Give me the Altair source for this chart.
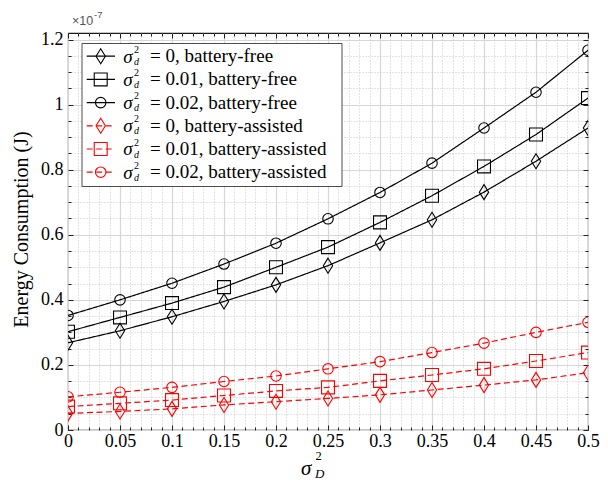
import altair as alt
import pandas as pd

# ---------------- data (values in units of 1e-7 J) ----------------
x_vals = [0, 0.05, 0.10, 0.15, 0.20, 0.25, 0.30, 0.35, 0.40, 0.45, 0.50]
bf_0 = [0.268, 0.305, 0.348, 0.395, 0.446, 0.505, 0.575, 0.646, 0.731, 0.826, 0.928]
bf_001 = [0.302, 0.346, 0.390, 0.439, 0.500, 0.562, 0.638, 0.720, 0.810, 0.908, 1.020]
bf_002 = [0.352, 0.400, 0.451, 0.510, 0.574, 0.649, 0.730, 0.820, 0.928, 1.038, 1.167]
ba_0 = [0.051, 0.057, 0.065, 0.077, 0.087, 0.097, 0.108, 0.123, 0.138, 0.154, 0.176]
ba_001 = [0.072, 0.082, 0.092, 0.106, 0.120, 0.131, 0.151, 0.169, 0.188, 0.212, 0.238]
ba_002 = [0.102, 0.116, 0.131, 0.149, 0.166, 0.188, 0.210, 0.238, 0.267, 0.300, 0.331]

series_names = ["bf0", "bf001", "bf002", "ba0", "ba001", "ba002"]
series_values = [bf_0, bf_001, bf_002, ba_0, ba_001, ba_002]
series_markers = ["diamond", "square", "circle", "diamond", "square", "circle"]
legend_texts = [
    "= 0, battery-free",
    "= 0.01, battery-free",
    "= 0.02, battery-free",
    "= 0, battery-assisted",
    "= 0.01, battery-assisted",
    "= 0.02, battery-assisted",
]

x_major = [0, 0.05, 0.1, 0.15, 0.2, 0.25, 0.3, 0.35, 0.4, 0.45, 0.5]
x_minor = [round(i * 0.01, 2) for i in range(51) if i % 5 != 0]
y_major = [0, 0.2, 0.4, 0.6, 0.8, 1.0, 1.2]
y_minor = [round(i * 0.05, 2) for i in range(25) if i % 4 != 0]

# ---------------- styles ----------------
colors = ["#000000", "#000000", "#000000", "#ff0000", "#ff0000", "#ff0000"]
dashes = [[1, 0], [1, 0], [1, 0], [6, 3.5], [6, 3.5], [6, 3.5]]
marker_kinds = ["diamond", "square", "circle"]
marker_paths = ["M0,-1L0.62,0L0,1L-0.62,0Z", "square", "circle"]
marker_sizes = [225, 110, 169]

rows = []
for name, vals, mk in zip(series_names, series_values, series_markers):
    for xv, yv in zip(x_vals, vals):
        rows.append({"x": xv, "y": yv, "series": name, "marker": mk})
df = pd.DataFrame(rows)

leg = pd.DataFrame({"series": series_names, "marker": series_markers,
                    "label": legend_texts, "row": list(range(6))})

xs = alt.Scale(domain=[0, 0.5], nice=False, zero=False)
ys = alt.Scale(domain=[0, 1.22], nice=False, zero=False)
color_s = alt.Color("series:N", scale=alt.Scale(domain=series_names, range=colors), legend=None)
dash_s = alt.StrokeDash("series:N", scale=alt.Scale(domain=series_names, range=dashes), legend=None)
shape_s = alt.Shape("marker:N", scale=alt.Scale(domain=marker_kinds, range=marker_paths), legend=None)
size_s = alt.Size("marker:N", scale=alt.Scale(domain=marker_kinds, range=marker_sizes), legend=None)

SERIF = "Liberation Serif"


def axis_layer(xaxis, yaxis):
    return alt.Chart(df).mark_point(opacity=0).encode(
        x=alt.X("x:Q", scale=xs, axis=xaxis),
        y=alt.Y("y:Q", scale=ys, axis=yaxis),
    )


def plain(orient, values, **kw):
    base = dict(orient=orient, values=values, title=None, labels=False, ticks=False,
                domain=False, grid=False)
    base.update(kw)
    return alt.Axis(**base)


grid_minor = axis_layer(
    plain("bottom", x_minor, grid=True, gridColor="#c8c8c8", gridDash=[1, 2], gridWidth=1),
    plain("left", y_minor, grid=True, gridColor="#c8c8c8", gridDash=[1, 2], gridWidth=1),
)
grid_major = axis_layer(
    plain("bottom", x_major, grid=True, gridColor="#d6d6d6", gridWidth=1.2),
    plain("left", y_major, grid=True, gridColor="#d6d6d6", gridWidth=1.2),
)
label_axes = axis_layer(
    alt.Axis(orient="bottom", values=x_major, title=None, grid=False, domain=False,
             ticks=True, tickSize=5, tickColor="#222", tickWidth=1, offset=-5,
             labels=True, labelFont=SERIF, labelFontSize=18, labelColor="#000",
             labelPadding=2, labelFlush=False, labelOverlap=False, format="~g"),
    alt.Axis(orient="left", values=y_major, title=None, grid=False, domain=False,
             ticks=True, tickSize=5, tickColor="#222", tickWidth=1, offset=-5,
             labels=True, labelFont=SERIF, labelFontSize=18, labelColor="#000",
             labelPadding=5, labelFlush=False, labelOverlap=False, format="~g"),
)
minor_ticks_bl = axis_layer(
    plain("bottom", x_minor, ticks=True, tickSize=3, tickColor="#222", offset=-3),
    plain("left", y_minor, ticks=True, tickSize=3, tickColor="#222", offset=-3),
)
major_ticks_tr = axis_layer(
    plain("top", x_major, ticks=True, tickSize=5, tickColor="#222", offset=-5),
    plain("right", y_major, ticks=True, tickSize=5, tickColor="#222", offset=-5),
)
minor_ticks_tr = axis_layer(
    plain("top", x_minor, ticks=True, tickSize=3, tickColor="#222", offset=-3),
    plain("right", y_minor, ticks=True, tickSize=3, tickColor="#222", offset=-3),
)

X = alt.X("x:Q", scale=xs, axis=None)
Y = alt.Y("y:Q", scale=ys, axis=None)

lines = alt.Chart(df).mark_line(clip=True, strokeWidth=1.2).encode(
    x=X, y=Y, color=color_s, strokeDash=dash_s, detail="series:N")
points = alt.Chart(df).mark_point(clip=True, filled=False, strokeWidth=1.1, opacity=1).encode(
    x=X, y=Y, color=color_s, shape=shape_s, size=size_s)

# ---------------- legend ----------------
leg_y = alt.Y("row:Q", scale=alt.Scale(domain=[0, 5], range=[23.2, 139.2]), axis=None)
one = pd.DataFrame({"a": [0]})
leg_box = alt.Chart(one).mark_rect(fill="white", stroke="#3a3a3a", strokeWidth=0.9).encode(
    x=alt.value(14), x2=alt.value(274), y=alt.value(10.5), y2=alt.value(153.5))
leg_lines = alt.Chart(leg).mark_rule(strokeWidth=1.2).encode(
    x=alt.value(18.7), x2=alt.value(47), y=leg_y, color=color_s, strokeDash=dash_s)
leg_pts = alt.Chart(leg).mark_point(filled=False, strokeWidth=1.1, opacity=1).encode(
    x=alt.value(32.7), y=leg_y, color=color_s, shape=shape_s, size=size_s)
leg_sigma = alt.Chart(leg).mark_text(font=SERIF, fontSize=19, fontStyle="italic",
                                     align="left", baseline="alphabetic", dy=6.3,
                                     color="#000").encode(
    x=alt.value(55.3), y=leg_y, text=alt.value("σ"))
leg_sup = alt.Chart(leg).mark_text(font=SERIF, fontSize=10, align="left",
                                   baseline="alphabetic", dy=-3.5, color="#000").encode(
    x=alt.value(66), y=leg_y, text=alt.value("2"))
leg_sub = alt.Chart(leg).mark_text(font=SERIF, fontSize=10, fontStyle="italic", align="left",
                                   baseline="alphabetic", dy=8.5, color="#000").encode(
    x=alt.value(66), y=leg_y, text=alt.value("d"))
leg_txt = alt.Chart(leg).mark_text(font=SERIF, fontSize=19, align="left",
                                   baseline="alphabetic", dy=6.0, color="#000").encode(
    x=alt.value(82), y=leg_y, text="label:N")

# ---------------- titles ----------------
ytitle = alt.Chart(one).mark_text(font=SERIF, fontSize=20, angle=270, align="center",
                                  baseline="middle", color="#000").encode(
    x=alt.value(-46), y=alt.value(196.5), text=alt.value("Energy Consumption (J)"))
xt_sigma = alt.Chart(one).mark_text(font=SERIF, fontSize=21, fontStyle="italic", align="left",
                                    baseline="alphabetic", color="#000").encode(
    x=alt.value(233), y=alt.value(441.5), text=alt.value("σ"))
xt_sup = alt.Chart(one).mark_text(font=SERIF, fontSize=12.5, align="left",
                                  baseline="alphabetic", color="#000").encode(
    x=alt.value(247.5), y=alt.value(427), text=alt.value("2"))
xt_sub = alt.Chart(one).mark_text(font=SERIF, fontSize=13, fontStyle="italic", align="left",
                                  baseline="alphabetic", color="#000").encode(
    x=alt.value(247), y=alt.value(445), text=alt.value("D"))
exp_base = alt.Chart(one).mark_text(font="Liberation Sans", fontSize=12.5, align="left",
                                    baseline="alphabetic", color="#555").encode(
    x=alt.value(4), y=alt.value(-8.5), text=alt.value("×10"))
exp_pow = alt.Chart(one).mark_text(font="Liberation Sans", fontSize=9.5, align="left",
                                   baseline="alphabetic", color="#555").encode(
    x=alt.value(26), y=alt.value(-15), text=alt.value("-7"))

chart = alt.layer(
    grid_minor, grid_major, lines, points,
    minor_ticks_bl, major_ticks_tr, minor_ticks_tr, label_axes,
    leg_box, leg_lines, leg_pts, leg_sigma, leg_sup, leg_sub, leg_txt,
    ytitle, xt_sigma, xt_sup, xt_sub, exp_base, exp_pow,
).resolve_scale(
    x="independent", y="independent"
).resolve_axis(
    x="independent", y="independent"
).properties(
    width=520, height=397,
    autosize=alt.AutoSizeParams(type="none"),
    padding={"left": 68, "top": 33, "right": 20, "bottom": 56},
    background="white",
).configure_view(
    stroke="#1a1a1a", strokeWidth=1.1
)

chart.save("out.html", embed_options={"renderer": "svg", "actions": False})
